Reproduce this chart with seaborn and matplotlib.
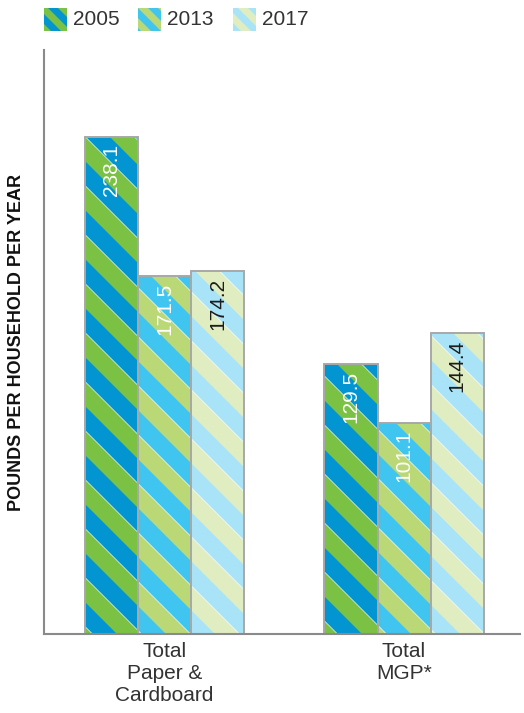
import math

import matplotlib
matplotlib.use("Agg")
import matplotlib.pyplot as plt
import numpy as np
import pandas as pd
import seaborn as sns
from matplotlib.lines import Line2D
from matplotlib.patches import Polygon, Rectangle
from matplotlib.transforms import IdentityTransform

# ---- data -------------------------------------------------------------
categories = ["Total\nPaper &\nCardboard", "Total\nMGP*"]
years = ["2005", "2013", "2017"]
values_2005 = [238.1, 129.5]
values_2013 = [171.5, 101.1]
values_2017 = [174.2, 144.4]
ylabel_text = "POUNDS PER HOUSEHOLD PER YEAR"

# ---- styling ----------------------------------------------------------
face_colors = {"2005": "#0395d2", "2013": "#3fc5f0", "2017": "#a9e3f7"}
band_colors = {"2005": "#7bc143", "2013": "#bbd877", "2017": "#e0edc1"}
value_text_colors = {"2005": "white", "2013": "white", "2017": "#1c1c1c"}
edge_gray = "#a8a8a8"
spine_gray = "#8a8a8a"
text_gray = "#333333"

sns.set_theme(style="white")
plt.rcParams["font.family"] = ["Liberation Sans", "DejaVu Sans"]

W, H = 524, 713
fig = plt.figure(figsize=(W / 100, H / 100), dpi=100)
ax = fig.add_axes([44 / W, 79 / H, 476 / W, 584 / H])

df = pd.DataFrame({
    "category": categories * 3,
    "year": [y for y in years for _ in categories],
    "pounds": values_2005 + values_2013 + values_2017,
})

sns.barplot(
    data=df, x="category", y="pounds", hue="year",
    order=categories, hue_order=years,
    palette=face_colors, saturation=1, width=0.665,
    edgecolor="none", linewidth=0, legend=False, errorbar=None, ax=ax,
)

ax.set_xlim(-0.503, 1.484)
ax.set_ylim(0, 280)


def add_stripes(target, patch, color, period, phase=0.0, seam=True, z=None):
    """Fill a patch with diagonal (top-left to bottom-right) bands."""
    bb = patch.get_window_extent()
    x0, y0, x1, y1 = bb.x0 - 2, bb.y0 - 2, bb.x1 + 2, bb.y1 + 2
    zorder = (patch.get_zorder() + 0.1) if z is None else z
    k0 = math.floor((x0 + y0 - phase) / period) - 1
    k1 = math.ceil((x1 + y1 - phase) / period) + 1
    for k in range(k0, k1):
        c1 = k * period + phase
        c2 = c1 + period / 2
        poly = Polygon(
            [(x0, c1 - x0), (x1, c1 - x1), (x1, c2 - x1), (x0, c2 - x0)],
            closed=True, transform=IdentityTransform(),
            facecolor=color, edgecolor="none", zorder=zorder,
        )
        target.add_artist(poly)
        poly.set_clip_path(patch)
        if seam:
            ln = Line2D([x0, x1], [c2 - x0, c2 - x1], transform=IdentityTransform(),
                        color="white", lw=0.6, alpha=0.75, zorder=zorder + 0.01)
            target.add_artist(ln)
            ln.set_clip_path(patch)


for year, container in zip(years, ax.containers):
    for bar in container:
        add_stripes(ax, bar, band_colors[year], period=49, phase=0)
        ax.add_patch(Rectangle(bar.get_xy(), bar.get_width(), bar.get_height(),
                               fill=False, edgecolor=edge_gray, lw=1.4,
                               zorder=bar.get_zorder() + 0.3))
        val = bar.get_height()
        ax.annotate(f"{val:.1f}", (bar.get_x() + bar.get_width() / 2, val),
                    xytext=(0, -5), textcoords="offset points",
                    rotation=90, ha="center", va="top", fontsize=15,
                    color=value_text_colors[year], zorder=bar.get_zorder() + 0.5)

# ---- axes -------------------------------------------------------------
sns.despine(ax=ax, top=True, right=True)
for side in ("left", "bottom"):
    ax.spines[side].set_color(spine_gray)
    ax.spines[side].set_linewidth(1.5)
ax.set_yticks([])
ax.set_xlabel("")
ax.tick_params(axis="x", length=0, pad=6, labelsize=15, labelcolor=text_gray)
ax.set_ylabel(ylabel_text, fontsize=13, fontweight="bold", color="#111111")
ax.yaxis.set_label_coords(-0.0588, 0.5)
ax.yaxis.label.set_va("center")

# ---- legend -----------------------------------------------------------
legend_x = [44, 138, 233]
sq = 23
sq_bottom = H - 31
for year, lx in zip(years, legend_x):
    swatch = Rectangle((lx, sq_bottom), sq, sq, transform=IdentityTransform(),
                       facecolor=face_colors[year], edgecolor="none", zorder=5)
    fig.add_artist(swatch)
    add_stripes(fig, swatch, band_colors[year], period=20, phase=3, seam=False, z=5.1)
    fig.text((lx + sq + 6) / W, (sq_bottom + sq / 2) / H, year, fontsize=15,
             color=text_gray, ha="left", va="center")

fig.savefig("out.png", dpi=100)
